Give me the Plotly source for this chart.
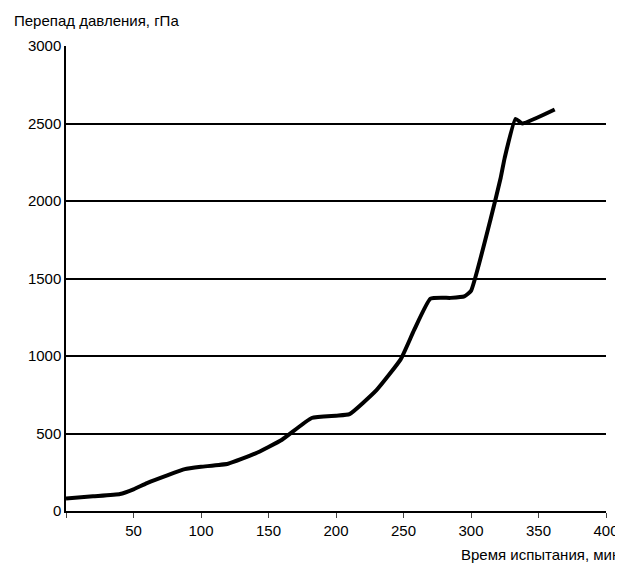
import plotly.graph_objects as go

time_min = [0, 20, 40, 50, 60, 75, 88, 100, 120, 140, 160, 182, 200, 210, 230, 248, 258, 270, 285, 295, 300, 315, 322, 325, 333, 338, 362]
pressure = [80, 95, 110, 140, 180, 230, 270, 285, 305, 370, 460, 600, 615, 625, 780, 980, 1170, 1370, 1375, 1385, 1420, 1900, 2150, 2280, 2530, 2500, 2590]
xticks = [0, 50, 100, 150, 200, 250, 300, 350, 400]
yticks = [0, 500, 1000, 1500, 2000, 2500, 3000]

fig = go.Figure(go.Scatter(x=time_min, y=pressure, mode="lines",
                           line=dict(color="black", width=4), line_shape="spline",
                           line_smoothing=0.4))
fig.update_layout(
    width=623, height=569, plot_bgcolor="white", paper_bgcolor="white",
    margin=dict(l=58, r=25, t=38, b=66, autoexpand=False), showlegend=False,
    font=dict(family="Liberation Sans, Arial", size=15, color="black"),
    annotations=[
        dict(text="Перепад давления, гПа", xref="paper", yref="paper", x=-0.1, y=1.0,
             yshift=36, xanchor="left", yanchor="top", showarrow=False, font=dict(size=15)),
        dict(text="Время испытания, мин", xref="paper", yref="paper", x=1.03, y=0,
             yshift=-33, xanchor="right", yanchor="top", showarrow=False, font=dict(size=15)),
    ],
)
fig.update_xaxes(range=[0, 400], tickvals=xticks, ticktext=["" if v == 0 else str(v) for v in xticks],
                 showline=True, linecolor="black", linewidth=1.5, ticks="outside", ticklen=5,
                 showgrid=False, zeroline=False, automargin=False)
fig.update_yaxes(range=[0, 3000], tickvals=yticks, showline=True, linecolor="black", linewidth=1.5,
                 showgrid=True, gridcolor="black", gridwidth=1.5, zeroline=False, ticks="",
                 automargin=False)
fig.write_html("out.html")
